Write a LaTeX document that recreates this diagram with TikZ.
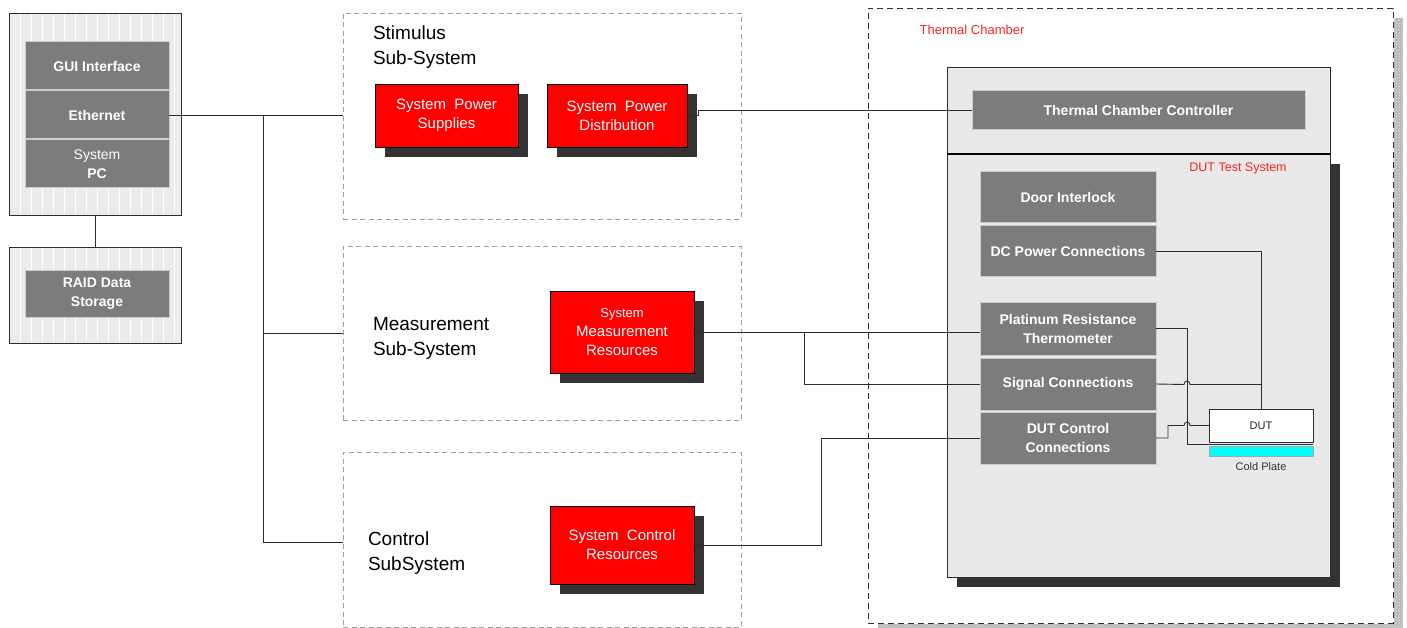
\documentclass[tikz,border=0pt]{standalone}
\usepackage{fontspec}
\setmainfont{Liberation Sans}
\usetikzlibrary{shadows,patterns,calc}
\definecolor{dk}{RGB}{124,124,124}
\definecolor{shd}{RGB}{51,51,51}
\definecolor{lt}{RGB}{233,233,233}
\definecolor{ltpc}{RGB}{236,236,236}
\definecolor{ln}{RGB}{45,45,45}
\definecolor{rd}{RGB}{255,0,0}
\definecolor{tred}{RGB}{255,35,35}
\definecolor{cy}{RGB}{0,255,255}
\newcommand\fsz[2]{\fontsize{#1}{#2}\selectfont}
\begin{document}
\begin{tikzpicture}[x=1pt,y=-1pt,
  every node/.style={inner sep=0pt, outer sep=0pt},
  dbox/.style={rectangle, fill=dk, draw=gray!40, line width=1pt, text=white, align=center, font=\bfseries\fsz{14}{19}},
  rbox/.style={rectangle, fill=rd, draw=black, line width=0.8pt, text=white, align=center, font=\fsz{15}{19}, drop shadow={shadow xshift=10pt, shadow yshift=-10pt, fill=shd, opacity=1}},
  pcframe/.style={rectangle, fill=ltpc, draw=ln, line width=0.9pt},
  subsys/.style={rectangle, draw=gray!75, dash pattern=on 5pt off 3.5pt, line width=0.9pt},
  title/.style={anchor=base west, font=\fsz{19}{24}, text=black},
  redlabel/.style={text=tred, font=\fsz{13}{15}},
  conn/.style={draw=ln, line width=0.9pt},
]
\useasboundingbox (0,0) rectangle (1407,628);

% ---------------- PC and RAID ----------------
\node[pcframe, minimum width=172pt, minimum height=202pt] (pcbox) at (95,114) {};
\foreach \xx in {20,31,...,175} \draw[white, line width=0.8pt] (\xx,14) -- (\xx,214);
\node[dbox, minimum width=144pt, minimum height=48pt] (gui) at (97,66) {GUI Interface};
\node[dbox, minimum width=144pt, minimum height=48pt] (eth) at (97,115) {Ethernet};
\node[dbox, minimum width=144pt, minimum height=48pt] (spc) at (97,164) {\mdseries System\\PC};

\node[pcframe, minimum width=172pt, minimum height=96pt] (raidbox) at (95,295) {};
\foreach \xx in {20,31,...,175} \draw[white, line width=0.8pt] (\xx,248) -- (\xx,342);
\node[dbox, minimum width=144pt, minimum height=47pt] (raid) at (97,293.5) {RAID Data\\Storage};

% ---------------- Sub-systems ----------------
\node[subsys, minimum width=398pt, minimum height=206pt] (stim) at (542,116) {};
\node[subsys, minimum width=398pt, minimum height=174pt] (meas) at (542,333) {};
\node[subsys, minimum width=398pt, minimum height=175pt] (ctrl) at (542,539.5) {};

\node[title] (stimA) at (373,40) {Stimulus};
\node[title] (stimB) at (373,65) {Sub-System};
\node[title] (measA) at (373,330) {Measurement};
\node[title] (measB) at (373,355) {Sub-System};
\node[title] (ctrlA) at (368,545) {Control};
\node[title] (ctrlB) at (368,570) {SubSystem};

\node[rbox, minimum width=143pt, minimum height=63pt] (psup) at (446.5,115.5) {System\ \ Power\\Supplies};
\node[rbox, minimum width=140pt, minimum height=63pt] (pdist) at (617,115.5) {System\ \ Power\\Distribution};
\node[rbox, minimum width=144pt, minimum height=82pt] (mres) at (622,332) {{\fsz{13}{19}System}\\Measurement\\Resources};
\node[rbox, minimum width=144pt, minimum height=78pt] (cres) at (622,545) {System\ \ Control\\Resources};

% ---------------- Thermal chamber ----------------
\fill[gray!55] (1394,18) rectangle (1403,628);
\fill[gray!55] (878,624) rectangle (1403,628);
\fill[pattern=crosshatch dots, pattern color=gray!20] (1394,18) rectangle (1403,628);
\fill[pattern=crosshatch dots, pattern color=gray!20] (878,624) rectangle (1403,628);
\node[rectangle, draw=ln, dash pattern=on 6pt off 4pt, line width=0.9pt, minimum width=525pt, minimum height=615pt] (tc) at (1130.5,315.5) {};
\node[redlabel] (tclab) at (972,30) {Thermal Chamber};

\node[rectangle, fill=lt, draw=ln, line width=0.9pt, minimum width=383pt, minimum height=423pt,
      drop shadow={shadow xshift=10pt, shadow yshift=-10pt, fill=shd, opacity=1}] (dts) at (1138.5,365.5) {};
\node[rectangle, fill=lt, draw=ln, line width=0.9pt, minimum width=383pt, minimum height=87pt] (tctop) at (1138.5,110.5) {};
\draw[black, line width=1.8pt] (tctop.south west) -- (tctop.south east);
\node[dbox, minimum width=333pt, minimum height=39pt] (tcc) at (1138.5,110.5) {Thermal Chamber Controller};
\node[redlabel, font=\fsz{12.5}{15}] (dtslab) at (1238,168) {DUT Test System};

\node[dbox, minimum width=176pt, minimum height=51pt] (door) at (1068,197.5) {Door Interlock};
\node[dbox, minimum width=176pt, minimum height=50pt] (dcp) at (1068,251) {DC Power Connections};
\node[dbox, minimum width=176pt, minimum height=53pt] (prt) at (1068,328.5) {Platinum Resistance\\Thermometer};
\node[dbox, minimum width=176pt, minimum height=52pt] (sig) at (1068,384) {Signal Connections};
\node[dbox, minimum width=176pt, minimum height=52pt] (dutc) at (1068,438) {DUT Control\\Connections};

\node[rectangle, fill=white, draw=ln, line width=0.8pt, minimum width=104pt, minimum height=33pt, font=\fsz{11}{13}, text=black!85] (dut) at (1261,425.5) {DUT};
\node[rectangle, fill=cy, draw=gray!70, line width=0.8pt, minimum width=104pt, minimum height=10pt] (cp) at (1261,451) {};
\node[font=\fsz{11}{13}, text=black!80] (cplab) at (1261,467) {Cold Plate};

% ---------------- Connectors ----------------
\coordinate (busT) at (263,115);
\coordinate (busM) at (263,333);
\coordinate (busB) at (263,542);
\draw[conn] (eth.east) -- (eth.east -| stim.west);
\draw[conn] (busT) -- (busB) -- (busB -| ctrl.west);
\draw[conn] (busM) -- (meas.west);
\draw[conn] (pcbox.south) -- (raidbox.north);

\coordinate (pdA) at (698,115.5);
\coordinate (pdB) at (698,110.5);
\draw[conn] (pdist.east) -- (pdA) -- (pdB) -- (tcc.west);

\coordinate (mj) at (804,332);
\draw[conn] (mres.east) -- (mres.east -| prt.west);
\draw[conn] (mj) |- (sig.west);

\coordinate (cj) at (821,545);
\draw[conn] (cres.east) -- (cj) |- (dutc.west);

\draw[conn] (dcp.east) -| (dut.north);

\coordinate (prtA) at (1187,328.5);
\coordinate (prtB) at (1187,444);
\draw[conn] (prt.east) -- (prtA) -- (prtB) -- (prtB -| cp.east);

\draw[conn] (sig.east) -- (1184,384.5) .. controls (1184,380) and (1190,380) .. (1190,384.5) -- (1261,384.5);

\coordinate (dcA) at (1168,438);
\coordinate (dcB) at (1168,425.5);
\draw[conn] (dutc.east) -- (dcA) -- (dcB) -- (1184,425.5) .. controls (1184,421) and (1190,421) .. (1190,425.5) -- (dut.west);
\end{tikzpicture}
\end{document}
